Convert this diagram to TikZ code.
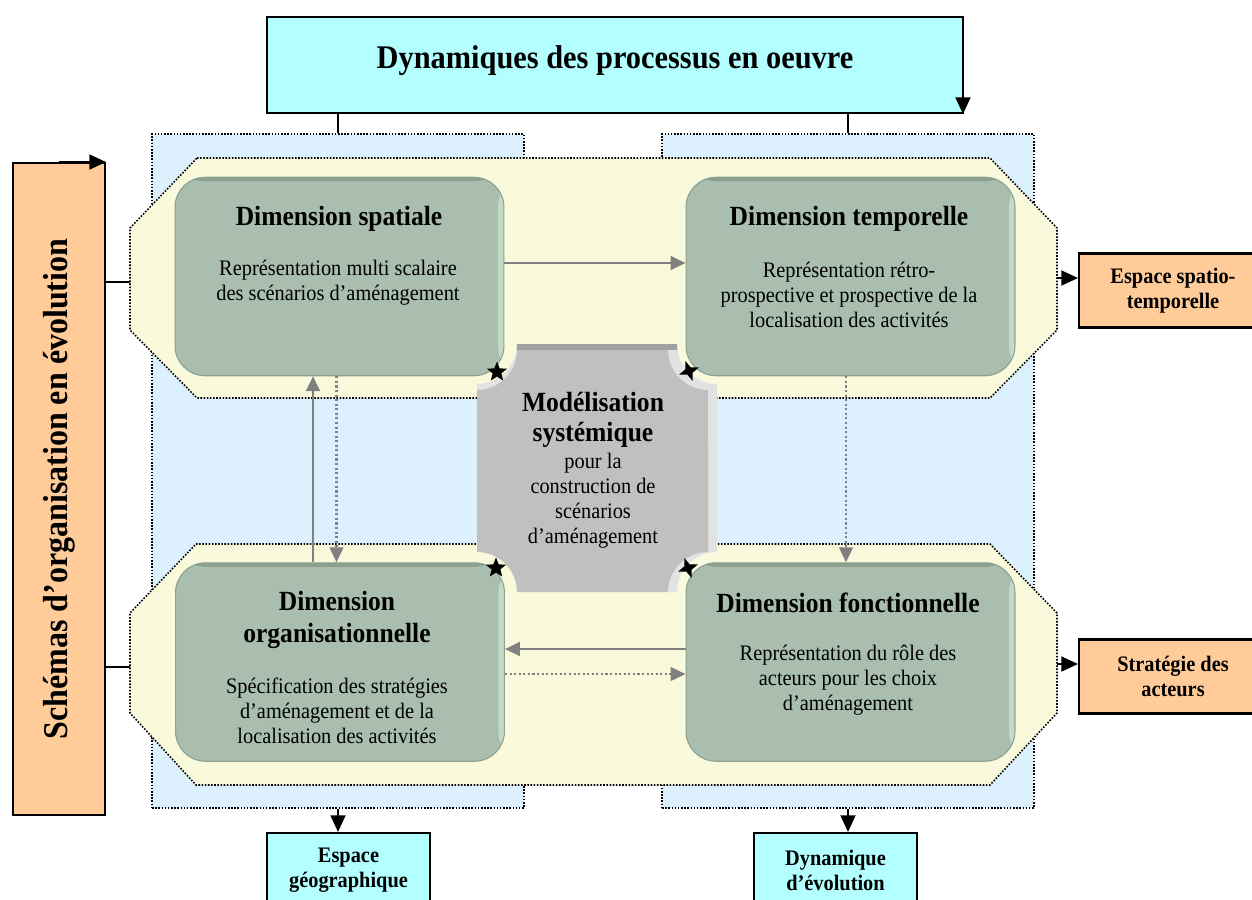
\documentclass[tikz,border=0pt]{standalone}
\usepackage{fontspec}
\setmainfont{Liberation Serif}[FakeStretch=0.92]
\usetikzlibrary{arrows.meta,shapes.geometric,calc}
\definecolor{cyanbox}{HTML}{B3FFFF}
\definecolor{orangebox}{HTML}{FFCC99}
\definecolor{bluezone}{HTML}{DCF0FD}
\definecolor{yellowzone}{HTML}{F9F9DC}
\definecolor{greenbox}{HTML}{A9BEAE}
\definecolor{greendark}{HTML}{8CA090}
\definecolor{greenlight}{HTML}{C4DAC7}
\definecolor{plaquegray}{HTML}{C0C0C0}
\definecolor{plaquelight}{HTML}{E2E2E2}
\definecolor{plaquedark}{HTML}{A0A0A0}
\definecolor{linkgray}{HTML}{808080}
\newcommand\myT{\fontsize{18.8pt}{22pt}\selectfont\bfseries}
\newcommand\myV{\fontsize{19.8pt}{22pt}\selectfont\bfseries}
\newcommand\myH{\fontsize{15.8pt}{18.1pt}\selectfont\bfseries}
\newcommand\myB{\fontsize{12.6pt}{14.3pt}\selectfont}
\newcommand\myS{\fontsize{12.6pt}{14.2pt}\selectfont\bfseries}
\begin{document}
\begin{tikzpicture}[x=0.02cm,y=-0.02cm,
  blackbox/.style={draw=black, line width=1.2pt, inner sep=0pt, align=center},
  zone/.style={draw=black, line width=0.9pt, dash pattern=on 0.9pt off 0.9pt},
  dimbox/.style={rounded corners=0.6cm, fill=greenbox, draw=greendark, line width=0.6pt,
    minimum width=6.58cm, minimum height=3.97cm, inner sep=0pt,
    path picture={
      \fill[greenlight] ([xshift=-0.12cm]path picture bounding box.north east) rectangle (path picture bounding box.south east);
      \fill[greendark] (path picture bounding box.north west) rectangle ([yshift=-0.08cm]path picture bounding box.north east);
    }},
  dimtitle/.style={font=\myH, align=center, inner sep=0pt},
  dimbody/.style={font=\myB, align=center, inner sep=0pt},
  smallbox/.style={blackbox, font=\myS, minimum width=3.26cm, minimum height=1.48cm},
  blk/.style={draw=black, line width=1.2pt},
  blkarrow/.style={blk, -{Triangle[length=9.5pt,width=8.5pt]}},
  grayarrow/.style={draw=linkgray, line width=1.6pt, -{Triangle[length=8.5pt,width=7.8pt]}},
  graydot/.style={draw=linkgray, line width=1.3pt, dash pattern=on 1.2pt off 1.4pt, -{Triangle[length=8.5pt,width=7.8pt]}},
  starmark/.style={star, fill=black, inner sep=0pt, minimum size=0.42cm}
]
\useasboundingbox (0,0) rectangle (1252,900);
\fill[white] (0,0) rectangle (1252,900);

% blue zones
\node[zone, fill=bluezone, minimum width=7.44cm, minimum height=13.48cm] (blueL) at (338,471) {};
\node[zone, fill=bluezone, minimum width=7.44cm, minimum height=13.48cm] (blueR) at (848,471) {};

% yellow octagons
\path[zone, fill=yellowzone] (197,158) -- (990,158) -- (1057,228) -- (1057,330) -- (990,398) -- (197,398) -- (130,330) -- (130,228) -- cycle;
\path[zone, fill=yellowzone] (196,544) -- (990,544) -- (1057,613) -- (1057,713) -- (990,785) -- (196,785) -- (130,713) -- (130,613) -- cycle;
\coordinate (yTl) at (130,282);
\coordinate (yTr) at (1057,278);
\coordinate (yBl) at (130,667);
\coordinate (yBr) at (1057,664);

% title box
\node[blackbox, fill=cyanbox, minimum width=13.92cm, minimum height=1.92cm,
  label={[yshift=0.08cm, font=\myT]center:Dynamiques des processus en oeuvre}] (title) at (615,65) {};

% left orange box
\node[blackbox, fill=orangebox, minimum width=1.84cm, minimum height=13.04cm,
  label={[rotate=90, font=\myV]center:Schémas d’organisation en évolution}] (orL) at (59,489) {};

% right orange boxes
\node[smallbox, fill=orangebox, minimum width=3.76cm] (stp) at (1173,290.5) {Espace spatio-\\temporelle};
\node[smallbox, fill=orangebox, minimum width=3.76cm] (sda) at (1173,676.5) {Stratégie des\\acteurs};

% bottom cyan boxes
\node[smallbox, fill=cyanbox] (geo) at (348.5,870) {Espace\\géographique};
\node[smallbox, fill=cyanbox] (dyn) at (835.5,870) {Dynamique\\d’évolution};

% dimension boxes
\node[dimbox] (sp) at (339.5,276.5) {};
\node[dimbox] (te) at (850.5,276.5) {};
\node[dimbox] (or) at (340,662) {};
\node[dimbox] (fo) at (850.5,662) {};

% central plaque
\fill[plaquelight] (517,344) -- (677,344) arc[start angle=180,end angle=270,radius=0.8cm] -- (717,552) arc[start angle=90,end angle=180,radius=0.8cm] -- (517,592) arc[start angle=0,end angle=90,radius=0.8cm] -- (477,384) arc[start angle=270,end angle=360,radius=0.8cm] -- cycle;
\begin{scope}
\clip (517,344) -- (677,344) arc[start angle=180,end angle=270,radius=0.8cm] -- (717,552) arc[start angle=90,end angle=180,radius=0.8cm] -- (517,592) arc[start angle=0,end angle=90,radius=0.8cm] -- (477,384) arc[start angle=270,end angle=360,radius=0.8cm] -- cycle;
\fill[plaquedark] (470,340) rectangle (712,350);
\end{scope}
\fill[plaquegray] (517,350) -- (668,350) arc[start angle=180,end angle=270,radius=0.8cm] -- (708,552) arc[start angle=90,end angle=180,radius=0.8cm] -- (517,592) arc[start angle=0,end angle=90,radius=0.8cm] -- (477,390) arc[start angle=270,end angle=360,radius=0.8cm] -- cycle;
\node[align=center, inner sep=0pt, font={\fontsize{15.8pt}{17pt}\selectfont\bfseries}] (cmT) at (593,420) {Modélisation\\systémique};
\node[align=center, inner sep=0pt, font={\fontsize{12.6pt}{14.2pt}\selectfont}] (cmB) at (593,501) {pour la\\construction de\\scénarios\\d’aménagement};

% stars
\node[starmark, star points=5, star point ratio=2.3] (s1) at (497,372) {};
\node[starmark, star points=4, star point ratio=2.6, rotate=20] (s2) at (689,371) {};
\node[starmark, star points=5, star point ratio=2.3] (s3) at (496,568) {};
\node[starmark, star points=4, star point ratio=2.6, rotate=20] (s4) at (688,568) {};

% texts in dimension boxes
\node[dimtitle] (spT) at (339,219) {Dimension spatiale};
\node[dimbody] (spB) at (338,283) {Représentation multi scalaire\\des scénarios d’aménagement};
\node[dimtitle] (teT) at (849,219) {Dimension temporelle};
\node[dimbody] (teB) at (849,295) {Représentation rétro-\\prospective et prospective de la\\localisation des activités};
\node[dimtitle] (orT) at (337,620) {Dimension\\organisationnelle};
\node[dimbody] (orB) at (337,711) {Spécification des stratégies\\d’aménagement et de la\\localisation des activités};
\node[dimtitle] (foT) at (848,603) {Dimension fonctionnelle};
\node[dimbody] (foB) at (848,680) {Représentation du rôle des\\acteurs pour les choix\\d’aménagement};

% gray connectors
\draw[grayarrow] ([yshift=0.27cm]sp.east) -- ([yshift=0.27cm]sp.east -| te.west);
\draw[graydot] ([xshift=-0.09cm]te.south) -- ([xshift=-0.09cm]te.south |- fo.north);
\draw[grayarrow] ([yshift=0.26cm]fo.west) -- ([yshift=0.26cm]fo.west -| or.east);
\draw[graydot] ([yshift=-0.24cm]or.east) -- ([yshift=-0.24cm]or.east -| fo.west);
\draw[grayarrow] ([xshift=-0.54cm]or.north) -- ([xshift=-0.54cm]or.north |- sp.south);
\draw[graydot] ([xshift=-0.06cm]sp.south) -- ([xshift=-0.06cm]sp.south |- or.north);

% black connectors
\draw[blk] (blueL.north |- title.south) -- (blueL.north);
\draw[blk] (blueR.north |- title.south) -- (blueR.north);
\draw[blkarrow] ([xshift=-0.02cm,yshift=0.96cm]title.south east) -- ([xshift=-0.02cm]title.south east);
\draw[blkarrow] (orL.north) -- (orL.north east);
\draw[blk] (orL.east |- yTl) -- (yTl);
\draw[blk] (orL.east |- yBl) -- (yBl);
\draw[blkarrow] (yTr) -- (yTr -| stp.west);
\draw[blkarrow] (yBr) -- (yBr -| sda.west);
\draw[blkarrow] (blueL.south) -- (blueL.south |- geo.north);
\draw[blkarrow] (blueR.south) -- (blueR.south |- dyn.north);
\end{tikzpicture}
\end{document}
